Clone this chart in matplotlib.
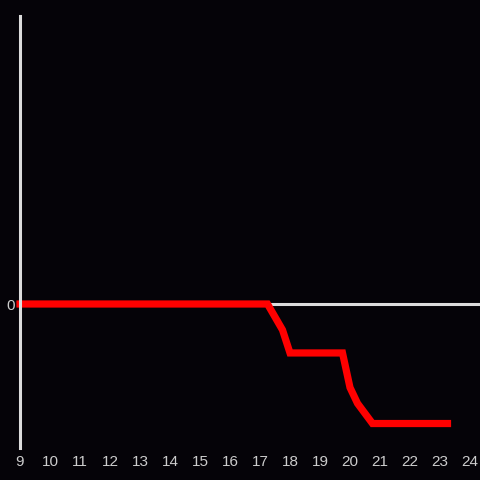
import matplotlib
matplotlib.use("Agg")
import matplotlib.pyplot as plt

hours = [9.0, 17.25, 17.75, 18.0, 19.75, 20.0, 20.25, 20.75, 23.25]
values = [0.0, 0.0, -0.18, -0.34, -0.34, -0.58, -0.69, -0.83, -0.83]
xticks = list(range(9, 25))
yticks = [0]

bg = "#050308"
fig = plt.figure(figsize=(4.8, 4.8), dpi=100, facecolor=bg)
ax = fig.add_axes([20/480, 32/480, 460/480, 432/480], facecolor=bg)
ax.set_xlim(9, 9 + 460/30)
ax.set_ylim(-1, 2)

ax.axhline(0, color="#dcdcdc", lw=2.2, zorder=1)
ax.plot(hours, values, color="#ff0000", lw=5.2, solid_joinstyle="miter",
        solid_capstyle="projecting", zorder=2, clip_on=False)

for s in ["top", "right", "bottom"]:
    ax.spines[s].set_visible(False)
ax.spines["left"].set_color("#dcdcdc")
ax.spines["left"].set_linewidth(2.2)
ax.spines["left"].set_zorder(3)

ax.set_xticks(xticks)
ax.set_xticklabels([str(t) for t in xticks])
ax.set_yticks(yticks)
ax.set_yticklabels([str(t) for t in yticks])
ax.tick_params(axis="both", length=0, colors="#cccccc", labelsize=11)
ax.tick_params(axis="x", pad=5)
ax.tick_params(axis="y", pad=4)
for lbl in ax.get_xticklabels() + ax.get_yticklabels():
    lbl.set_family("Liberation Sans")

fig.savefig("out.png", dpi=100, facecolor=bg)
